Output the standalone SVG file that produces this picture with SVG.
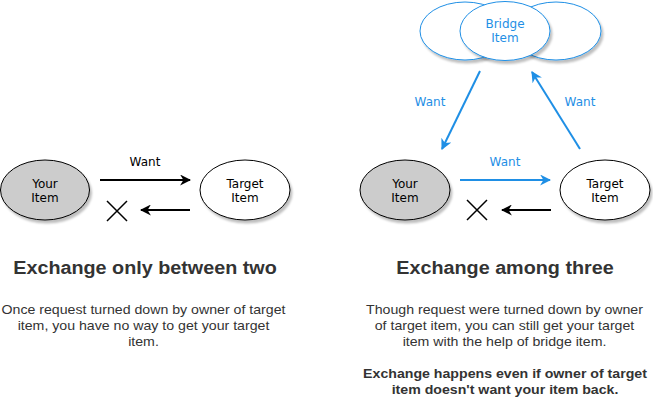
<svg xmlns="http://www.w3.org/2000/svg" width="653" height="411" viewBox="0 0 653 411">
<style>
.node{stroke:#000;stroke-width:1;filter:url(#sh)}
.bnode{stroke:#1f8fe5;stroke-width:1;fill:#fff;filter:url(#sh)}
.nt{font-family:"DejaVu Sans",Verdana,sans-serif;font-size:12px;text-anchor:middle;fill:#000}
.bt{font-family:"DejaVu Sans",Verdana,sans-serif;font-size:12px;text-anchor:middle;fill:#1f8fe5}
.h{font-family:"Liberation Sans",Arial,sans-serif;font-weight:bold;font-size:17.5px;text-anchor:middle;fill:#333}
.p{font-family:"Liberation Sans",Arial,sans-serif;font-size:13px;text-anchor:middle;fill:#333}
.pb{font-family:"Liberation Sans",Arial,sans-serif;font-size:13px;font-weight:bold;text-anchor:middle;fill:#333}
.k{stroke:#000;stroke-width:2;fill:none}
.b{stroke:#1f8fe5;stroke-width:2;fill:none}
</style>
<defs>
<filter id="sh" x="-20%" y="-20%" width="150%" height="160%">
<feDropShadow dx="2" dy="3" stdDeviation="1.2" flood-color="#000" flood-opacity="0.25"/>
</filter>
<marker id="ak" viewBox="0 0 10 10" refX="9" refY="5" markerWidth="5.5" markerHeight="5.5" orient="auto" markerUnits="strokeWidth">
<path d="M0,0 L10,5 L0,10 L3,5 Z" fill="#000"/>
</marker>
<marker id="ab" viewBox="0 0 10 10" refX="9" refY="5" markerWidth="5.5" markerHeight="5.5" orient="auto" markerUnits="strokeWidth">
<path d="M0,0 L10,5 L0,10 L3,5 Z" fill="#1f8fe5"/>
</marker>
</defs>

<g id="connectors">
<line class="k" x1="100" y1="180" x2="190" y2="180" marker-end="url(#ak)"/>
<line class="k" x1="190" y1="210" x2="141" y2="210" marker-end="url(#ak)"/>
<line class="b" x1="460" y1="180" x2="550" y2="180" marker-end="url(#ab)"/>
<line class="k" x1="551" y1="210" x2="502" y2="210" marker-end="url(#ak)"/>
<line class="b" x1="480" y1="71" x2="442" y2="149" marker-end="url(#ab)"/>
<line class="b" x1="580" y1="149" x2="532" y2="72" marker-end="url(#ab)"/>
<text class="nt" x="145" y="166">Want</text>
<text class="bt" x="505" y="166">Want</text>
<text class="bt" x="430" y="106">Want</text>
<text class="bt" x="580" y="106">Want</text>
</g>

<g id="x-left"><path d="M107,201 L127,221 M127,201 L107,221" stroke="#000" stroke-width="1.5"/></g>
<g id="x-right"><path d="M467,200 L487,220 M487,200 L467,220" stroke="#000" stroke-width="1.5"/></g>

<g id="your-item-left">
<ellipse class="node" cx="45" cy="190" rx="44.5" ry="30" fill="#cccccc"/>
<text class="nt" x="45" y="188">Your</text><text class="nt" x="45" y="202">Item</text>
</g>
<g id="target-item-left">
<ellipse class="node" cx="245" cy="190" rx="45" ry="30" fill="#fff"/>
<text class="nt" x="245" y="188">Target</text><text class="nt" x="245" y="202">Item</text>
</g>
<g id="your-item-right">
<ellipse class="node" cx="405" cy="190" rx="45" ry="30" fill="#cccccc"/>
<text class="nt" x="405" y="188">Your</text><text class="nt" x="405" y="202">Item</text>
</g>
<g id="target-item-right">
<ellipse class="node" cx="605" cy="190" rx="45" ry="30" fill="#fff"/>
<text class="nt" x="605" y="188">Target</text><text class="nt" x="605" y="202">Item</text>
</g>
<g id="bridge-item">
<ellipse class="bnode" cx="465" cy="31" rx="45" ry="29"/>
<ellipse class="bnode" cx="556" cy="31" rx="45" ry="29"/>
<ellipse class="bnode" cx="505" cy="31" rx="45" ry="29.5"/>
<text class="bt" x="505" y="28">Bridge</text><text class="bt" x="505" y="42">Item</text>
</g>

<g id="caption-left">
<text class="h" transform="translate(145,0) scale(1.13,1)" x="0" y="274">Exchange only between two</text>
<text class="p" transform="translate(143.5,0) scale(1.09,1)" x="0" y="314">Once request turned down by owner of target</text>
<text class="p" transform="translate(143.5,0) scale(1.09,1)" x="0" y="330">item, you have no way to get your target</text>
<text class="p" transform="translate(143.5,0) scale(1.09,1)" x="0" y="346">item.</text>
</g>
<g id="caption-right">
<text class="h" transform="translate(505,0) scale(1.13,1)" x="0" y="274">Exchange among three</text>
<text class="p" transform="translate(504.5,0) scale(1.09,1)" x="0" y="314">Though request were turned down by owner</text>
<text class="p" transform="translate(504.5,0) scale(1.09,1)" x="0" y="330">of target item, you can still get your target</text>
<text class="p" transform="translate(504.5,0) scale(1.09,1)" x="0" y="346">item with the help of bridge item.</text>
<text class="pb" transform="translate(505,0) scale(1.09,1)" x="0" y="378">Exchange happens even if owner of target</text>
<text class="pb" transform="translate(505,0) scale(1.09,1)" x="0" y="394">item doesn't want your item back.</text>
</g>
</svg>
